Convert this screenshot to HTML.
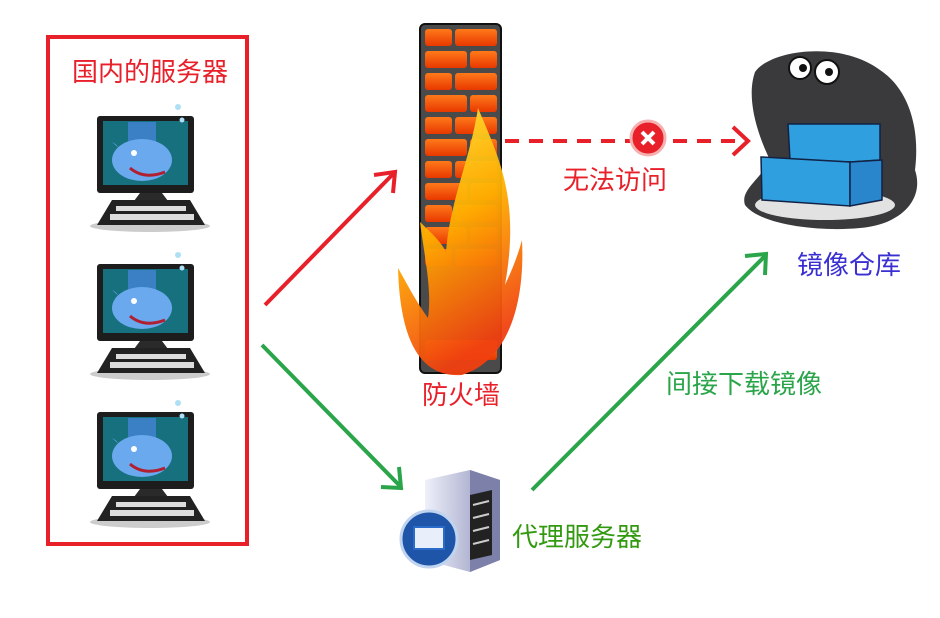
<!DOCTYPE html>
<html><head><meta charset="utf-8"><style>
html,body{margin:0;padding:0;background:#fff;}
svg{display:block}
text{font-family:"Liberation Sans","Noto Sans CJK SC",sans-serif;font-size:26px}
</style></head><body>
<svg width="940" height="618" viewBox="0 0 940 618" xmlns="http://www.w3.org/2000/svg">
<defs>
<linearGradient id="brick" x1="0" y1="0" x2="0" y2="1"><stop offset="0" stop-color="#ff7a1a"/><stop offset="1" stop-color="#e83800"/></linearGradient>
<linearGradient id="fire" x1="0" y1="0" x2="0.3" y2="1"><stop offset="0" stop-color="#ffe640"/><stop offset="0.5" stop-color="#ffb000"/><stop offset="1" stop-color="#f04010"/></linearGradient>
<linearGradient id="srv" x1="0" y1="0" x2="1" y2="0"><stop offset="0" stop-color="#eef0fa"/><stop offset="1" stop-color="#8c8fb8"/></linearGradient>
<g id="pc">
 <ellipse cx="150" cy="226" rx="60" ry="6" fill="#ccc"/>
 <rect x="97" y="116" width="97" height="77" rx="3" fill="#1d1d1d"/>
 <rect x="103" y="121" width="85" height="64" fill="#17707e"/>
 <rect x="128" y="122" width="28" height="22" fill="#3b7fc4"/>
 <ellipse cx="142" cy="160" rx="30" ry="21" fill="#6aa9ee"/>
 <path d="M112 142 q8 4 8 12 l8 2 z" fill="#6aa9ee"/>
 <path d="M130 168 q14 12 35 4" stroke="#b02030" stroke-width="3" fill="none"/>
 <circle cx="134" cy="153" r="3" fill="#fff"/>
 <circle cx="178" cy="107" r="3" fill="#aee0f5"/><circle cx="182" cy="120" r="2.5" fill="#aee0f5"/>
 <path d="M140 193 h22 l6 8 h-34 z" fill="#2a2a2a"/>
 <path d="M112 200 h78 l15 25 h-108 z" fill="#222"/>
 <g fill="#ddd"><rect x="116" y="206" width="70" height="5"/><rect x="110" y="214" width="84" height="6"/></g>
</g>
</defs>

<rect x="48" y="37" width="199" height="507" fill="none" stroke="#e8202a" stroke-width="4"/>
<text x="72" y="81" fill="#e8202a">国内的服务器</text>
<use href="#pc"/>
<use href="#pc" y="148"/>
<use href="#pc" y="296"/>

<!-- firewall -->
<rect x="420" y="24" width="81" height="349" rx="5" fill="#4a4a4a" stroke="#111" stroke-width="2"/>
<g fill="url(#brick)">
<rect x="425" y="29" width="27" height="17" rx="3"/><rect x="455" y="29" width="42" height="17" rx="3"/>
<rect x="425" y="51" width="42" height="17" rx="3"/><rect x="470" y="51" width="27" height="17" rx="3"/>
<rect x="425" y="73" width="27" height="17" rx="3"/><rect x="455" y="73" width="42" height="17" rx="3"/>
<rect x="425" y="95" width="42" height="17" rx="3"/><rect x="470" y="95" width="27" height="17" rx="3"/>
<rect x="425" y="117" width="27" height="17" rx="3"/><rect x="455" y="117" width="42" height="17" rx="3"/>
<rect x="425" y="139" width="42" height="17" rx="3"/><rect x="470" y="139" width="27" height="17" rx="3"/>
<rect x="425" y="161" width="27" height="17" rx="3"/><rect x="455" y="161" width="42" height="17" rx="3"/>
<rect x="425" y="183" width="42" height="17" rx="3"/><rect x="470" y="183" width="27" height="17" rx="3"/>
<rect x="425" y="205" width="27" height="17" rx="3"/><rect x="455" y="205" width="42" height="17" rx="3"/>
<rect x="425" y="227" width="42" height="17" rx="3"/><rect x="470" y="227" width="27" height="17" rx="3"/>
<rect x="425" y="249" width="27" height="17" rx="3"/><rect x="455" y="249" width="42" height="17" rx="3"/>
<rect x="425" y="340" width="72" height="20" rx="3"/>
</g>
<path d="M478 108 C500 160 520 200 505 285 C512 270 518 255 522 240 C525 300 510 360 462 375 C420 378 400 340 398 268 C405 280 415 300 428 318 C432 290 425 260 420 222 C430 232 440 240 446 252 C450 200 470 160 478 108 Z" fill="url(#fire)" opacity="0.95"/>
<text x="422" y="404" fill="#e8202a">防火墙</text>

<!-- red arrow up -->
<line x1="265" y1="305" x2="394" y2="173" stroke="#e8202a" stroke-width="4"/>
<path d="M374 175 L395 172 L393 193" fill="none" stroke="#e8202a" stroke-width="4"/>
<!-- dashed red -->
<line x1="505" y1="141" x2="745" y2="141" stroke="#e8202a" stroke-width="4" stroke-dasharray="14,10"/>
<path d="M733 127 L748 141 L733 155" fill="none" stroke="#e8202a" stroke-width="4"/>
<circle cx="648" cy="138" r="17" fill="#e8202a" stroke="#f6b0b0" stroke-width="3"/>
<path d="M642 132 l12 12 M654 132 l-12 12" stroke="#fff" stroke-width="4"/>
<text x="563" y="189" fill="#e8202a">无法访问</text>

<!-- green arrows -->
<line x1="262" y1="345" x2="400" y2="486" stroke="#2aa54a" stroke-width="4"/>
<path d="M399 467 L401 488 L381 487" fill="none" stroke="#2aa54a" stroke-width="4"/>
<line x1="532" y1="490" x2="765" y2="256" stroke="#2aa54a" stroke-width="4"/>
<path d="M745 256 L766 254 L765 275" fill="none" stroke="#2aa54a" stroke-width="4"/>
<text x="666" y="393" fill="#2aa54a">间接下载镜像</text>

<!-- server -->
<path d="M425 480 L470 470 L500 480 L500 560 L470 572 L425 560 Z" fill="url(#srv)"/>
<path d="M470 470 L500 480 L500 560 L470 572 Z" fill="#7d80a8"/>
<path d="M470 495 L492 490 L492 555 L470 560 Z" fill="#222"/>
<g stroke="#ccc" stroke-width="2"><line x1="473" y1="505" x2="489" y2="501"/><line x1="473" y1="518" x2="489" y2="514"/><line x1="473" y1="531" x2="489" y2="527"/><line x1="473" y1="544" x2="489" y2="540"/></g>
<circle cx="429" cy="539" r="28" fill="#1f55a8" stroke="#c0d4f0" stroke-width="3"/>
<rect x="414" y="527" width="30" height="22" fill="#e8eefa" stroke="#2a6ac8" stroke-width="2"/>
<text x="512" y="546" fill="#339911">代理服务器</text>

<!-- registry -->
<path d="M755 72 C770 50 840 40 880 70 C910 90 920 130 915 170 C925 200 900 225 860 228 C820 232 760 225 745 205 C740 190 760 180 770 160 C760 140 745 100 755 72 Z" fill="#3a3a3c"/>
<ellipse cx="825" cy="205" rx="70" ry="15" fill="#e2e2e2"/>
<circle cx="800" cy="68" r="11" fill="#fff" stroke="#111" stroke-width="2"/><circle cx="803" cy="68" r="4" fill="#111"/>
<circle cx="827" cy="72" r="12" fill="#fff" stroke="#111" stroke-width="2"/><circle cx="829" cy="72" r="4" fill="#111"/>
<path d="M788 124 L880 124 L880 160 L850 162 L790 160 Z" fill="#2f9fe0" stroke="#124" stroke-width="1.5"/>
<path d="M761 157 L850 162 L850 206 L762 200 Z" fill="#2f9fe0" stroke="#124" stroke-width="1.5"/>
<path d="M850 162 L882 160 L882 200 L850 206 Z" fill="#2a86cc" stroke="#124" stroke-width="1.5"/>
<text x="797" y="274" fill="#3a2fd0">镜像仓库</text>
</svg>
</body></html>
